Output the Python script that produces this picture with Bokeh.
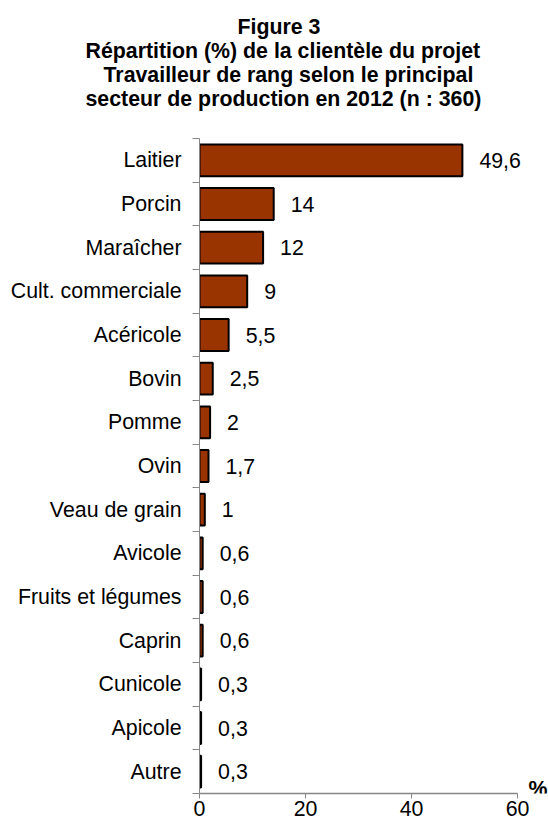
from bokeh.plotting import figure
from bokeh.models import Range1d, FixedTicker, Title, ColumnDataSource
from bokeh.core.properties import value
from bokeh.embed import file_html
from bokeh.resources import INLINE

categories = ["Laitier", "Porcin", "Maraîcher", "Cult. commerciale", "Acéricole",
              "Bovin", "Pomme", "Ovin", "Veau de grain", "Avicole",
              "Fruits et légumes", "Caprin", "Cunicole", "Apicole", "Autre"]
values = [49.6, 14, 12, 9, 5.5, 2.5, 2, 1.7, 1, 0.6, 0.6, 0.6, 0.3, 0.3, 0.3]
value_labels = ["49,6", "14", "12", "9", "5,5", "2,5", "2", "1,7", "1",
                "0,6", "0,6", "0,6", "0,3", "0,3", "0,3"]
x_ticks = [0, 20, 40, 60]
unit_label = "%"
title_lines = ["Figure 3",
               "Répartition (%) de la clientèle du projet",
               "Travailleur de rang selon le principal",
               "secteur de production en 2012 (n : 360)"]

n = len(categories)
ypos = [n - 1 - i for i in range(n)]

FONT = "Liberation Sans"
FS = "16pt"
GRAY = "#868686"

W, H = 548, 818
LEFT = 199            # frame left (px)
AXIS_PX = 318         # pixel length of the 0..60 axis
x_max = x_ticks[-1]
x_end = x_max * (W - LEFT) / AXIS_PX

p = figure(width=W, height=H, output_backend="svg", toolbar_location=None,
           x_range=Range1d(0, x_end), y_range=Range1d(-0.5, n - 0.5),
           min_border_left=LEFT, min_border_right=0, min_border_top=138,
           min_border_bottom=20)
p.outline_line_color = None
p.grid.visible = False
p.background_fill_color = "white"
p.border_fill_color = "white"

src = ColumnDataSource(dict(y=ypos, v=values, lab=value_labels))
p.hbar(y="y", right="v", left=0, height=0.73, source=src,
       fill_color="#993300", line_color="black", line_width=2)
p.text(x="v", y="y", text="lab", source=src, x_offset=17,
       text_align="left", text_baseline="middle",
       text_font=value(FONT), text_font_size=value(FS), text_color="black")

# unit label "%" near the end of the x axis
p.text(x=[x_max], y=[-0.5], text=[unit_label], x_offset=11, y_offset=-5,
       text_align="left", text_baseline="alphabetic",
       text_font=value(FONT), text_font_size=value(FS),
       text_font_style="bold", text_color="black")

# x axis
xa = p.xaxis[0]
xa.ticker = FixedTicker(ticks=x_ticks)
xa.bounds = (0, x_max)
xa.axis_line_color = GRAY
xa.axis_line_width = 1.5
xa.major_tick_line_color = GRAY
xa.major_tick_in = 0
xa.major_tick_out = 5
xa.minor_tick_line_color = None
xa.major_label_standoff = 2
xa.major_label_text_font = FONT
xa.major_label_text_font_size = FS
xa.major_label_text_color = "black"

# y axis
ya = p.yaxis[0]
ya.ticker = FixedTicker(ticks=ypos, minor_ticks=[k - 0.5 for k in range(n + 1)])
ya.major_label_overrides = {y: c for y, c in zip(ypos, categories)}
ya.axis_line_color = GRAY
ya.major_tick_line_color = None
ya.major_tick_in = 0
ya.major_tick_out = 0
ya.minor_tick_line_color = GRAY
ya.minor_tick_in = 0
ya.minor_tick_out = 7
ya.major_label_standoff = 11
ya.major_label_text_font = FONT
ya.major_label_text_font_size = FS
ya.major_label_text_color = "black"

# titles (added from the frame outward)
p.add_layout(Title(text=" ", text_font_size="1px", standoff=26), "above")
for line, off in reversed(list(zip(title_lines, [38, -114, -96, -114]))):
    p.add_layout(Title(text=line, align="left", offset=off, standoff=-2,
                       text_font=FONT, text_font_size=FS,
                       text_font_style="bold", text_color="black"), "above")

open("out.html", "w").write(file_html(p, INLINE))
